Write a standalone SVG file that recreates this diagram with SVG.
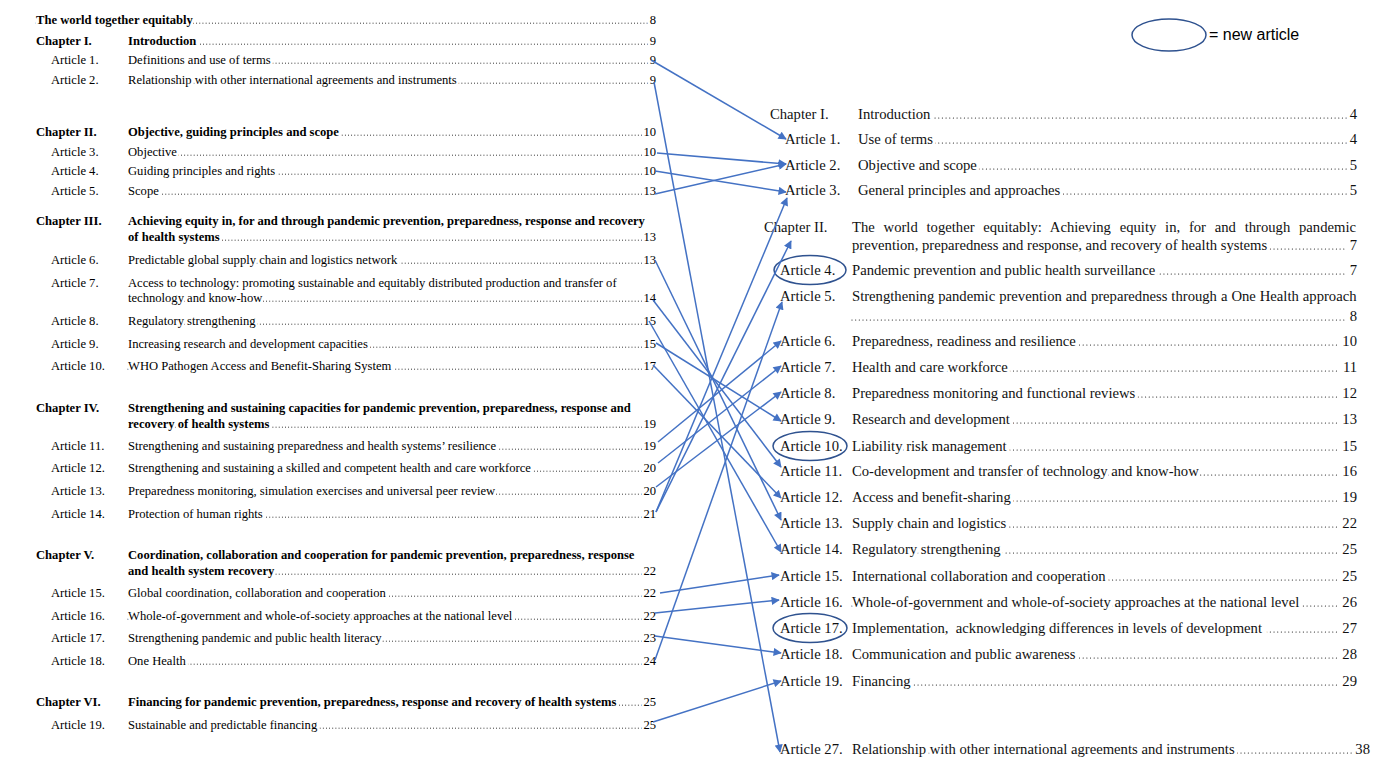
<svg xmlns="http://www.w3.org/2000/svg" width="1398" height="770" viewBox="0 0 1398 770">
<style>
.l{font-family:"Liberation Serif","Times New Roman",serif;font-size:12.6px;fill:#000;paint-order:stroke;stroke:#fff;stroke-width:5;stroke-linejoin:round}
.b{font-weight:bold}
.r{font-family:"Liberation Serif","Times New Roman",serif;font-size:14.67px;fill:#111;paint-order:stroke;stroke:#fff;stroke-width:6;stroke-linejoin:round}
.e{text-anchor:end}
.dl{stroke:#000;stroke-width:1;stroke-linecap:round;stroke-dasharray:0 3.15;fill:none}
.dr{stroke:#111;stroke-width:1.2;stroke-linecap:round;stroke-dasharray:0 3.67;fill:none}
.c{stroke:#4472C4;stroke-width:1.5;fill:none;marker-end:url(#ah)}
.ov{fill:none;stroke:#2F528F;stroke-width:1.5}
.lg{font-family:"Liberation Sans",Arial,sans-serif;font-size:16px;fill:#000}
</style>
<defs>
<marker id="ah" viewBox="0 0 10 10" refX="9" refY="5" markerWidth="6" markerHeight="5.5" orient="auto" markerUnits="strokeWidth"><path d="M0,0 L10,5 L0,10 z" fill="#4472C4"/></marker>
</defs>
<rect width="1398" height="770" fill="#fff"/>

<!-- LEFT COLUMN (old numbering) -->
<g id="old-toc">
<g id="old-title"><line class="dl" x1="36" y1="23.2" x2="648" y2="23.2"/><text class="l b" x="36" y="24">The world together equitably</text><text class="l e" x="656" y="24">8</text></g>
<g id="old-ch1"><line class="dl" x1="128" y1="44.2" x2="648" y2="44.2"/><text class="l b" x="36" y="45">Chapter I.</text><text class="l b" x="128" y="45">Introduction</text><text class="l e" x="656" y="45">9</text></g>
<g id="old-a1"><line class="dl" x1="128" y1="63.2" x2="648" y2="63.2"/><text class="l" x="51" y="64">Article 1.</text><text class="l" x="128" y="64">Definitions and use of terms</text><text class="l e" x="656" y="64">9</text></g>
<g id="old-a2"><line class="dl" x1="128" y1="83.2" x2="648" y2="83.2"/><text class="l" x="51" y="84">Article 2.</text><text class="l" x="128" y="84">Relationship with other international agreements and instruments</text><text class="l e" x="656" y="84">9</text></g>

<g id="old-ch2"><line class="dl" x1="128" y1="135.2" x2="642" y2="135.2"/><text class="l b" x="36" y="136">Chapter II.</text><text class="l b" x="128" y="136">Objective, guiding principles and scope</text><text class="l e" x="656" y="136">10</text></g>
<g id="old-a3"><line class="dl" x1="128" y1="155.2" x2="642" y2="155.2"/><text class="l" x="51" y="156">Article 3.</text><text class="l" x="128" y="156">Objective</text><text class="l e" x="656" y="156">10</text></g>
<g id="old-a4"><line class="dl" x1="128" y1="174.2" x2="642" y2="174.2"/><text class="l" x="51" y="175">Article 4.</text><text class="l" x="128" y="175">Guiding principles and rights</text><text class="l e" x="656" y="175">10</text></g>
<g id="old-a5"><line class="dl" x1="128" y1="194.2" x2="642" y2="194.2"/><text class="l" x="51" y="195">Article 5.</text><text class="l" x="128" y="195">Scope</text><text class="l e" x="656" y="195">13</text></g>

<g id="old-ch3"><line class="dl" x1="128" y1="240.2" x2="642" y2="240.2"/><text class="l b" x="36" y="225">Chapter III.</text><text class="l b" x="128" y="225">Achieving equity in, for and through pandemic prevention, preparedness, response and recovery</text><text class="l b" x="128" y="241">of health systems</text><text class="l e" x="656" y="241">13</text></g>
<g id="old-a6"><line class="dl" x1="128" y1="263.2" x2="642" y2="263.2"/><text class="l" x="51" y="264">Article 6.</text><text class="l" x="128" y="264">Predictable global supply chain and logistics network</text><text class="l e" x="656" y="264">13</text></g>
<g id="old-a7"><line class="dl" x1="128" y1="301.2" x2="642" y2="301.2"/><text class="l" x="51" y="287">Article 7.</text><text class="l" x="128" y="287">Access to technology: promoting sustainable and equitably distributed production and transfer of</text><text class="l" x="128" y="302">technology and know-how</text><text class="l e" x="656" y="302">14</text></g>
<g id="old-a8"><line class="dl" x1="128" y1="324.2" x2="642" y2="324.2"/><text class="l" x="51" y="325">Article 8.</text><text class="l" x="128" y="325">Regulatory strengthening</text><text class="l e" x="656" y="325">15</text></g>
<g id="old-a9"><line class="dl" x1="128" y1="347.2" x2="642" y2="347.2"/><text class="l" x="51" y="348">Article 9.</text><text class="l" x="128" y="348">Increasing research and development capacities</text><text class="l e" x="656" y="348">15</text></g>
<g id="old-a10"><line class="dl" x1="128" y1="369.2" x2="642" y2="369.2"/><text class="l" x="51" y="370">Article 10.</text><text class="l" x="128" y="370">WHO Pathogen Access and Benefit-Sharing System</text><text class="l e" x="656" y="370">17</text></g>

<g id="old-ch4"><line class="dl" x1="128" y1="427.2" x2="642" y2="427.2"/><text class="l b" x="36" y="412">Chapter IV.</text><text class="l b" x="128" y="412">Strengthening and sustaining capacities for pandemic prevention, preparedness, response and</text><text class="l b" x="128" y="428">recovery of health systems</text><text class="l e" x="656" y="428">19</text></g>
<g id="old-a11"><line class="dl" x1="128" y1="449.2" x2="642" y2="449.2"/><text class="l" x="51" y="450">Article 11.</text><text class="l" x="128" y="450">Strengthening and sustaining preparedness and health systems’ resilience</text><text class="l e" x="656" y="450">19</text></g>
<g id="old-a12"><line class="dl" x1="128" y1="471.2" x2="642" y2="471.2"/><text class="l" x="51" y="472">Article 12.</text><text class="l" x="128" y="472">Strengthening and sustaining a skilled and competent health and care workforce</text><text class="l e" x="656" y="472">20</text></g>
<g id="old-a13"><line class="dl" x1="128" y1="494.2" x2="642" y2="494.2"/><text class="l" x="51" y="495">Article 13.</text><text class="l" x="128" y="495">Preparedness monitoring, simulation exercises and universal peer review</text><text class="l e" x="656" y="495">20</text></g>
<g id="old-a14"><line class="dl" x1="128" y1="517.2" x2="642" y2="517.2"/><text class="l" x="51" y="518">Article 14.</text><text class="l" x="128" y="518">Protection of human rights</text><text class="l e" x="656" y="518">21</text></g>

<g id="old-ch5"><line class="dl" x1="128" y1="574.2" x2="642" y2="574.2"/><text class="l b" x="36" y="559">Chapter V.</text><text class="l b" x="128" y="559">Coordination, collaboration and cooperation for pandemic prevention, preparedness, response</text><text class="l b" x="128" y="575">and health system recovery</text><text class="l e" x="656" y="575">22</text></g>
<g id="old-a15"><line class="dl" x1="128" y1="596.2" x2="642" y2="596.2"/><text class="l" x="51" y="597">Article 15.</text><text class="l" x="128" y="597">Global coordination, collaboration and cooperation</text><text class="l e" x="656" y="597">22</text></g>
<g id="old-a16"><line class="dl" x1="128" y1="619.2" x2="642" y2="619.2"/><text class="l" x="51" y="620">Article 16.</text><text class="l" x="128" y="620">Whole-of-government and whole-of-society approaches at the national level</text><text class="l e" x="656" y="620">22</text></g>
<g id="old-a17"><line class="dl" x1="128" y1="641.2" x2="642" y2="641.2"/><text class="l" x="51" y="642">Article 17.</text><text class="l" x="128" y="642">Strengthening pandemic and public health literacy</text><text class="l e" x="656" y="642">23</text></g>
<g id="old-a18"><line class="dl" x1="128" y1="664.2" x2="642" y2="664.2"/><text class="l" x="51" y="665">Article 18.</text><text class="l" x="128" y="665">One Health</text><text class="l e" x="656" y="665">24</text></g>

<g id="old-ch6"><line class="dl" x1="128" y1="705.2" x2="642" y2="705.2"/><text class="l b" x="36" y="706">Chapter VI.</text><text class="l b" x="128" y="706">Financing for pandemic prevention, preparedness, response and recovery of health systems</text><text class="l e" x="656" y="706">25</text></g>
<g id="old-a19"><line class="dl" x1="128" y1="728.2" x2="642" y2="728.2"/><text class="l" x="51" y="729">Article 19.</text><text class="l" x="128" y="729">Sustainable and predictable financing</text><text class="l e" x="656" y="729">25</text></g>
</g>

<!-- RIGHT COLUMN (new numbering) -->
<g id="new-toc">
<g id="new-ch1"><line class="dr" x1="858" y1="118" x2="1347" y2="118"/><text class="r" x="770" y="119">Chapter I.</text><text class="r" x="858" y="119">Introduction</text><text class="r e" x="1357" y="119">4</text></g>
<g id="new-a1"><line class="dr" x1="858" y1="143" x2="1347" y2="143"/><text class="r" x="785" y="144">Article 1.</text><text class="r" x="858" y="144">Use of terms</text><text class="r e" x="1357" y="144">4</text></g>
<g id="new-a2"><line class="dr" x1="858" y1="169" x2="1347" y2="169"/><text class="r" x="785" y="170">Article 2.</text><text class="r" x="858" y="170">Objective and scope</text><text class="r e" x="1357" y="170">5</text></g>
<g id="new-a3"><line class="dr" x1="858" y1="194" x2="1347" y2="194"/><text class="r" x="785" y="195">Article 3.</text><text class="r" x="858" y="195">General principles and approaches</text><text class="r e" x="1357" y="195">5</text></g>

<g id="new-ch2"><line class="dr" x1="852" y1="249" x2="1347" y2="249"/><text class="r" x="764" y="232">Chapter II.</text><text class="r" x="852" y="232" word-spacing="5.1">The world together equitably: Achieving equity in, for and through pandemic</text><text class="r" x="852" y="250">prevention, preparedness and response, and recovery of health systems</text><text class="r e" x="1357" y="250">7</text></g>
<g id="new-a4"><line class="dr" x1="852" y1="274" x2="1347" y2="274"/><text class="r" x="780" y="275">Article 4.</text><text class="r" x="852" y="275">Pandemic prevention and public health surveillance</text><text class="r e" x="1357" y="275">7</text></g>
<g id="new-a5"><line class="dr" x1="852" y1="320" x2="1347" y2="320"/><text class="r" x="780" y="301">Article 5.</text><text class="r" x="852" y="301" word-spacing="0.3">Strengthening pandemic prevention and preparedness through a One Health approach</text><text class="r e" x="1357" y="321">8</text></g>
<g id="new-a6"><line class="dr" x1="852" y1="345" x2="1340" y2="345"/><text class="r" x="780" y="346">Article 6.</text><text class="r" x="852" y="346">Preparedness, readiness and resilience</text><text class="r e" x="1357" y="346">10</text></g>
<g id="new-a7"><line class="dr" x1="852" y1="371" x2="1340" y2="371"/><text class="r" x="780" y="372">Article 7.</text><text class="r" x="852" y="372">Health and care workforce</text><text class="r e" x="1357" y="372">11</text></g>
<g id="new-a8"><line class="dr" x1="852" y1="397" x2="1340" y2="397"/><text class="r" x="780" y="398">Article 8.</text><text class="r" x="852" y="398">Preparedness monitoring and functional reviews</text><text class="r e" x="1357" y="398">12</text></g>
<g id="new-a9"><line class="dr" x1="852" y1="423" x2="1340" y2="423"/><text class="r" x="780" y="424">Article 9.</text><text class="r" x="852" y="424">Research and development</text><text class="r e" x="1357" y="424">13</text></g>
<g id="new-a10"><line class="dr" x1="852" y1="450" x2="1340" y2="450"/><text class="r" x="780" y="451">Article 10.</text><text class="r" x="852" y="451">Liability risk management</text><text class="r e" x="1357" y="451">15</text></g>
<g id="new-a11"><line class="dr" x1="852" y1="475" x2="1340" y2="475"/><text class="r" x="780" y="476">Article 11.</text><text class="r" x="852" y="476">Co-development and transfer of technology and know-how</text><text class="r e" x="1357" y="476">16</text></g>
<g id="new-a12"><line class="dr" x1="852" y1="501" x2="1340" y2="501"/><text class="r" x="780" y="502">Article 12.</text><text class="r" x="852" y="502">Access and benefit-sharing</text><text class="r e" x="1357" y="502">19</text></g>
<g id="new-a13"><line class="dr" x1="852" y1="527" x2="1340" y2="527"/><text class="r" x="780" y="528">Article 13.</text><text class="r" x="852" y="528">Supply chain and logistics</text><text class="r e" x="1357" y="528">22</text></g>
<g id="new-a14"><line class="dr" x1="852" y1="553" x2="1340" y2="553"/><text class="r" x="780" y="554">Article 14.</text><text class="r" x="852" y="554">Regulatory strengthening</text><text class="r e" x="1357" y="554">25</text></g>
<g id="new-a15"><line class="dr" x1="852" y1="580" x2="1340" y2="580"/><text class="r" x="780" y="581">Article 15.</text><text class="r" x="852" y="581">International collaboration and cooperation</text><text class="r e" x="1357" y="581">25</text></g>
<g id="new-a16"><line class="dr" x1="852" y1="606" x2="1340" y2="606"/><text class="r" x="780" y="607">Article 16.</text><text class="r" x="852" y="607">Whole-of-government and whole-of-society approaches at the national level</text><text class="r e" x="1357" y="607">26</text></g>
<g id="new-a17"><line class="dr" x1="852" y1="632" x2="1340" y2="632"/><text class="r" x="780" y="633">Article 17.</text><text class="r" x="852" y="633" style="white-space:pre;stroke-width:10">Implementation,  acknowledging differences in levels of development</text><text class="r e" x="1357" y="633">27</text></g>
<g id="new-a18"><line class="dr" x1="852" y1="658" x2="1340" y2="658"/><text class="r" x="780" y="659">Article 18.</text><text class="r" x="852" y="659">Communication and public awareness</text><text class="r e" x="1357" y="659">28</text></g>
<g id="new-a19"><line class="dr" x1="852" y1="685" x2="1340" y2="685"/><text class="r" x="780" y="686">Article 19.</text><text class="r" x="852" y="686">Financing</text><text class="r e" x="1357" y="686">29</text></g>
<g id="new-a27"><line class="dr" x1="852" y1="753" x2="1353" y2="753"/><text class="r" x="780" y="754">Article 27.</text><text class="r" x="852" y="754">Relationship with other international agreements and instruments</text><text class="r e" x="1370" y="754">38</text></g>
</g>

<!-- new-article markers -->
<g id="new-markers">
<ellipse class="ov" cx="810" cy="270" rx="36" ry="14.5"/>
<ellipse class="ov" cx="810" cy="446" rx="37" ry="14.5"/>
<ellipse class="ov" cx="810" cy="628" rx="37" ry="14.5"/>
</g>

<g id="legend">
<ellipse class="ov" cx="1169" cy="35" rx="37" ry="16"/>
<text class="lg" x="1209" y="40">= new article</text>
</g>

<!-- CONNECTORS -->
<g id="connectors">
<line class="c" x1="651" y1="60" x2="786" y2="139"/>
<line class="c" x1="654" y1="82" x2="780" y2="752"/>
<line class="c" x1="657" y1="153" x2="786" y2="164"/>
<line class="c" x1="655" y1="171" x2="786" y2="192"/>
<line class="c" x1="655" y1="194" x2="786" y2="164"/>
<line class="c" x1="655" y1="260" x2="781" y2="520"/>
<line class="c" x1="653" y1="300" x2="781" y2="467"/>
<line class="c" x1="649" y1="321" x2="781" y2="552"/>
<line class="c" x1="656" y1="343" x2="781" y2="421"/>
<line class="c" x1="653" y1="365" x2="781" y2="498"/>
<line class="c" x1="658" y1="442" x2="781" y2="341"/>
<line class="c" x1="658" y1="463" x2="781" y2="366"/>
<line class="c" x1="656" y1="487" x2="781" y2="392"/>
<line class="c" x1="656" y1="512" x2="787" y2="198"/>
<line class="c" x1="656" y1="512" x2="791" y2="241"/>
<line class="c" x1="655" y1="660" x2="782" y2="302"/>
<line class="c" x1="660" y1="593" x2="779" y2="575"/>
<line class="c" x1="655" y1="613" x2="779" y2="600"/>
<line class="c" x1="655" y1="636" x2="781" y2="653"/>
<line class="c" x1="653" y1="722" x2="781" y2="681"/>
</g>
</svg>
